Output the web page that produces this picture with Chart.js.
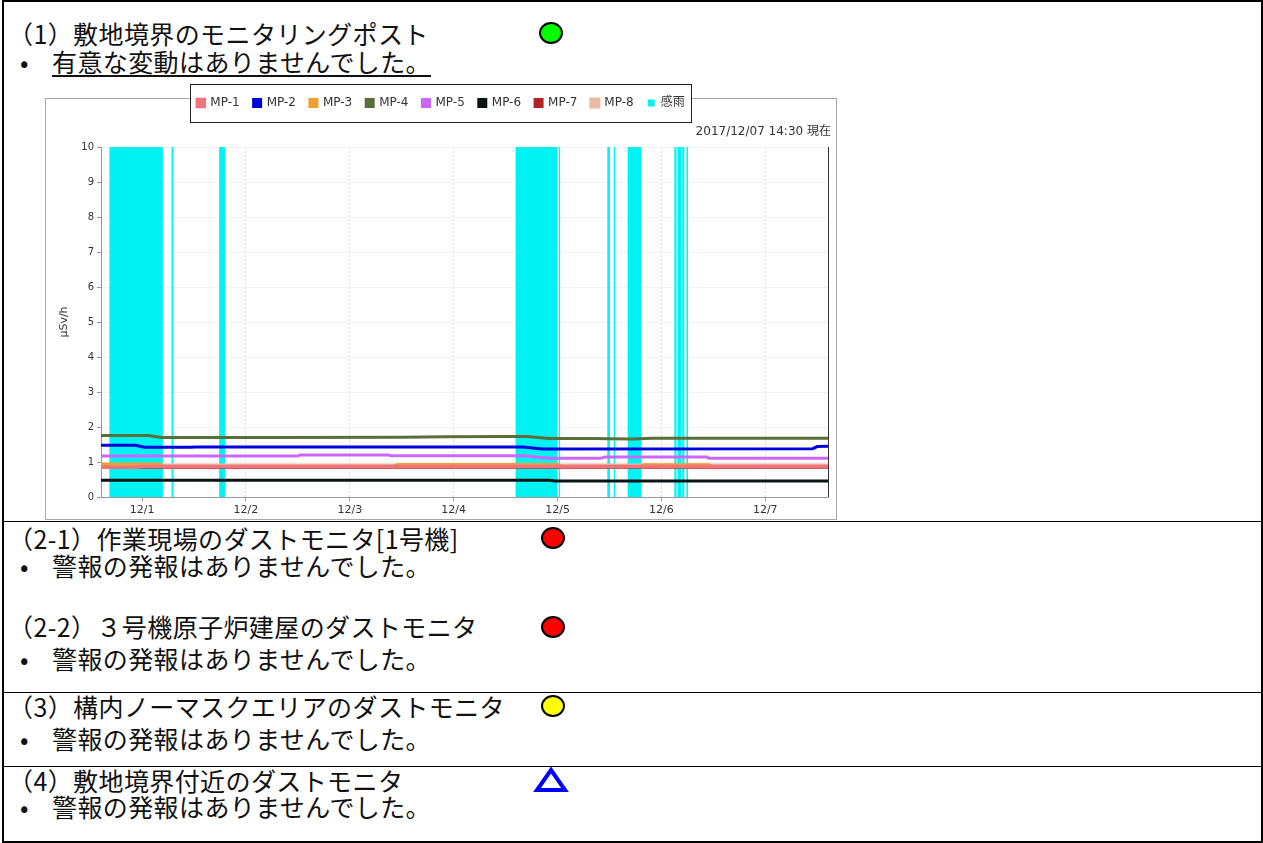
<!DOCTYPE html>
<html lang="ja">
<head>
<meta charset="utf-8">
<title>敷地境界のモニタリングポスト</title>
<script src="https://cdn.jsdelivr.net/npm/chart.js@4.4.0/dist/chart.umd.min.js"></script>
<style>
    html, body { margin: 0; padding: 0; background: #fff; }
    body { width: 1263px; height: 843px; position: relative; overflow: hidden; font-family: "Noto Sans CJK JP", sans-serif; color: #000; }
    .outer { position: absolute; left: 2px; top: 0; width: 1257px; height: 839px; border: 2px solid #000; }
    .sep { position: absolute; left: 2px; width: 1259px; height: 0; border-top: 1px solid #000; }
    .t { position: absolute; font-size: 25px; line-height: 28px; white-space: nowrap; letter-spacing: 0.4px; color: #111; }
    .u { text-decoration: underline; text-decoration-thickness: 2px; text-underline-offset: 3px; }
    #chart-box { position: absolute; left: 45px; top: 82px; width: 792px; height: 438px; }
    svg.mark { position: absolute; overflow: visible; }
</style>
</head>
<body>
<div class="outer"></div>
<div class="sep" style="top:521px"></div>
<div class="sep" style="top:692px"></div>
<div class="sep" style="top:766px"></div>

<div class="t" style="left:8px;top:19px">（1）敷地境界のモニタリングポスト</div>
<div class="t" style="left:20px;top:47px">•</div>
<div class="t u" style="left:52px;top:47px">有意な変動はありませんでした。</div>

<div class="t" style="left:8px;top:524px">（2-1）作業現場のダストモニタ[1号機]</div>
<div class="t" style="left:20px;top:551px">•</div>
<div class="t" style="left:52px;top:551px">警報の発報はありませんでした。</div>
<div class="t" style="left:8px;top:612px">（2-2）３号機原子炉建屋のダストモニタ</div>
<div class="t" style="left:20px;top:644px">•</div>
<div class="t" style="left:52px;top:644px">警報の発報はありませんでした。</div>

<div class="t" style="left:8px;top:692px">（3）構内ノーマスクエリアのダストモニタ</div>
<div class="t" style="left:20px;top:724px">•</div>
<div class="t" style="left:52px;top:724px">警報の発報はありませんでした。</div>

<div class="t" style="left:8px;top:766px">（4）敷地境界付近のダストモニタ</div>
<div class="t" style="left:20px;top:792px">•</div>
<div class="t" style="left:52px;top:792px">警報の発報はありませんでした。</div>

<svg class="mark" style="left:538px;top:21px" width="26" height="24"><ellipse cx="13" cy="12" rx="11" ry="10" fill="#00ff00" stroke="#000" stroke-width="2"/></svg>
<svg class="mark" style="left:540px;top:526px" width="26" height="24"><ellipse cx="13" cy="12" rx="11" ry="10" fill="#ff0000" stroke="#000" stroke-width="2"/></svg>
<svg class="mark" style="left:540px;top:615px" width="26" height="24"><ellipse cx="13" cy="12" rx="11" ry="10" fill="#ff0000" stroke="#000" stroke-width="2"/></svg>
<svg class="mark" style="left:540px;top:694px" width="26" height="24"><ellipse cx="13" cy="12" rx="11" ry="10" fill="#ffff00" stroke="#000" stroke-width="2"/></svg>
<svg class="mark" style="left:534px;top:767px" width="34" height="26"><polygon points="17,3 31,23 3,23" fill="none" stroke="#0000ff" stroke-width="4"/></svg>

<div id="chart-box"><canvas id="mp-chart" width="792" height="438"></canvas></div>

<script>
// Time axis: hours from 12/1 00:00 (11/30 14:30 to 12/7 14:30)
const xMin = -9.5;
const xMax = 158.5;
const dayTicks = [0, 24, 48, 72, 96, 120, 144];
const tickLabels = ['12/1', '12/2', '12/3', '12/4', '12/5', '12/6', '12/7'];
const seriesNames = ['MP-1', 'MP-2', 'MP-3', 'MP-4', 'MP-5', 'MP-6', 'MP-7', 'MP-8'];
const seriesColors = ['#f4727a', '#0000dd', '#f0a030', '#5a6e3a', '#cc66ff', '#0a1414', '#b22222', '#e9bba2'];

// Readings (μSv/h) at breakpoints
const mp1Time = [-9.5, -1.5, 0.5, 158.5];
const mp1Value = [0.85, 0.85, 0.87, 0.87];
const mp2Time = [-9.5, -1.5, 0.5, 11, 12.5, 88, 92.5, 155, 156, 158.5];
const mp2Value = [1.48, 1.48, 1.42, 1.42, 1.43, 1.43, 1.37, 1.38, 1.44, 1.45];
const mp3Time = [-9.5, 4, 5, 58, 59, 96, 97, 115, 116, 131, 132, 158.5];
const mp3Value = [0.94, 0.94, 0.87, 0.87, 0.93, 0.93, 0.87, 0.87, 0.92, 0.92, 0.87, 0.87];
const mp4Time = [-9.5, 1.5, 4.5, 30, 60, 70, 84, 89, 94, 104, 113, 118, 158.5];
const mp4Value = [1.76, 1.76, 1.70, 1.70, 1.71, 1.72, 1.73, 1.73, 1.67, 1.67, 1.66, 1.68, 1.68];
const mp5Time = [-9.5, 36, 36.5, 57, 57.5, 88, 94, 106, 107, 130.5, 131, 158.5];
const mp5Value = [1.17, 1.17, 1.20, 1.20, 1.18, 1.18, 1.11, 1.11, 1.14, 1.14, 1.11, 1.11];
const mp6Time = [-9.5, 94, 95.5, 115, 116, 158.5];
const mp6Value = [0.48, 0.48, 0.46, 0.46, 0.455, 0.455];
const mp7Time = [-9.5, 158.5];
const mp7Value = [0.85, 0.85];
const mp8Time = [-9.5, 158.5];
const mp8Value = [0.90, 0.90];

// Rain detector (感雨) on/off periods, hours
const rainStart = [-7.6, 6.8, 17.8, 86.3, 96.3, 107.5, 109.0, 112.2, 123.0, 123.7, 124.8, 125.8];
const rainEnd = [4.8, 7.2, 19.2, 96.0, 96.6, 108.1, 109.3, 115.4, 123.5, 124.6, 125.3, 126.2];

const seriesTimes = [mp1Time, mp2Time, mp3Time, mp4Time, mp5Time, mp6Time, mp7Time, mp8Time];
const seriesValues = [mp1Value, mp2Value, mp3Value, mp4Value, mp5Value, mp6Value, mp7Value, mp8Value];
const seriesWidths = [3.5, 3, 3, 3, 3, 3, 3, 4];

function toPoints(times, values) {
    return times.map((t, i) => ({ x: t, y: values[i] }));
}

function rainPoints() {
    const pts = [];
    rainStart.forEach((s, i) => {
        pts.push({ x: s, y: 0 }, { x: s, y: 10 }, { x: rainEnd[i], y: 10 }, { x: rainEnd[i], y: 0 });
    });
    return pts;
}

const datasets = seriesNames.map((name, i) => ({
    label: name,
    data: toPoints(seriesTimes[i], seriesValues[i]),
    borderColor: seriesColors[i],
    backgroundColor: seriesColors[i],
    borderWidth: seriesWidths[i],
    pointRadius: 0,
    tension: 0,
    fill: false
}));

datasets.push({
    label: '感雨',
    data: rainPoints(),
    borderColor: '#00f2f2',
    backgroundColor: '#00f2f2',
    borderWidth: 0,
    pointRadius: 0,
    tension: 0,
    fill: 'origin'
});

// Frame, legend box, plot edges and time stamp
const framePlugin = {
    id: 'frame',
    beforeInit(chart) {
        const fit = chart.legend.fit;
        chart.legend.fit = function () {
            fit.bind(this)();
            this.height = 64;
        };
    },
    beforeDraw(chart) {
        const ctx = chart.ctx;
        ctx.save();
        ctx.fillStyle = '#fff';
        ctx.fillRect(0, 0, chart.width, chart.height);
        ctx.strokeStyle = '#a8a8a8';
        ctx.lineWidth = 1;
        ctx.strokeRect(0.5, 16.5, chart.width - 1, chart.height - 17);
        ctx.fillRect(145, 2, 501, 38);
        ctx.strokeStyle = '#222';
        ctx.strokeRect(145.5, 2.5, 501, 38);
        ctx.restore();
    },
    afterDatasetsDraw(chart) {
        const { ctx, chartArea } = chart;
        ctx.save();
        ctx.strokeStyle = '#333';
        ctx.lineWidth = 1;
        ctx.beginPath();
        ctx.moveTo(chartArea.right + 0.5, chartArea.top);
        ctx.lineTo(chartArea.right + 0.5, chartArea.bottom);
        ctx.stroke();
        ctx.restore();
    },
    afterDraw(chart) {
        const { ctx, chartArea } = chart;
        ctx.save();
        ctx.fillStyle = '#333';
        ctx.font = '12px "DejaVu Sans", "Noto Sans CJK JP", sans-serif';
        ctx.textAlign = 'right';
        ctx.textBaseline = 'middle';
        ctx.fillText('2017/12/07 14:30 現在', chartArea.right + 3, chartArea.top - 15);
        ctx.restore();
    }
};

const ctx = document.getElementById('mp-chart').getContext('2d');
const myChart = new Chart(ctx, {
    type: 'line',
    data: { datasets },
    options: {
        responsive: false,
        animation: false,
        layout: { padding: { top: 1, left: 9, right: 9, bottom: 1 } },
        plugins: {
            title: { display: false },
            tooltip: { enabled: false },
            legend: {
                display: true,
                position: 'top',
                labels: {
                    boxWidth: 7,
                    boxHeight: 7,
                    padding: 14,
                    color: '#333',
                    font: { family: '"DejaVu Sans", "Noto Sans CJK JP", sans-serif', size: 12 }
                }
            }
        },
        scales: {
            x: {
                type: 'linear',
                min: xMin,
                max: xMax,
                afterBuildTicks: (scale) => {
                    scale.ticks = dayTicks.map(v => ({ value: v }));
                },
                afterFit: (scale) => { scale.height = 22; },
                ticks: {
                    color: '#333',
                    padding: 3,
                    maxRotation: 0,
                    font: { family: '"DejaVu Sans", sans-serif', size: 11 },
                    callback: (value) => tickLabels[dayTicks.indexOf(value)]
                },
                grid: { color: '#dcdcdc', tickLength: 4, tickColor: '#999' },
                border: { color: '#999', dash: [2, 2] }
            },
            y: {
                min: 0,
                max: 10,
                afterFit: (scale) => { scale.width = 47; },
                ticks: {
                    stepSize: 1,
                    color: '#333',
                    padding: 3,
                    font: { family: '"DejaVu Sans", sans-serif', size: 10 }
                },
                title: {
                    display: true,
                    text: 'μSv/h',
                    color: '#333',
                    padding: { top: 4, bottom: 0 },
                    font: { family: '"DejaVu Sans", sans-serif', size: 11 }
                },
                grid: { color: '#f2f2f2', tickLength: 4, tickColor: '#999' },
                border: { color: '#999' }
            }
        }
    },
    plugins: [framePlugin]
});
</script>
</body>
</html>
